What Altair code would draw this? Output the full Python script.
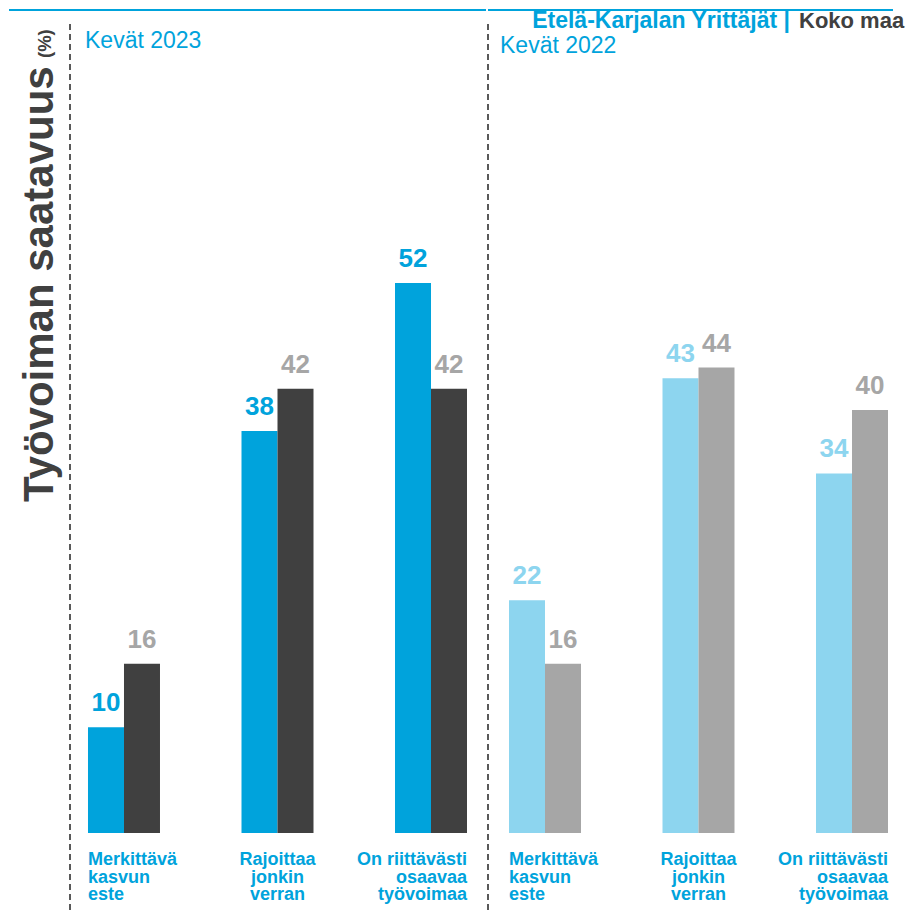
import altair as alt
import pandas as pd

# ---- data ----
categories = ["Merkittävä kasvun este", "Rajoittaa jonkin verran", "On riittävästi osaavaa työvoimaa"]
cat_lines = ["Merkittävä\nkasvun\neste", "Rajoittaa\njonkin\nverran", "On riittävästi\nosaavaa\ntyövoimaa"]
series = ["Etelä-Karjalan Yrittäjät", "Koko maa"]
ek_2023 = [10, 38, 52]
koko_2023 = [16, 42, 42]
ek_2022 = [22, 43, 34]
koko_2022 = [16, 44, 40]
panel_titles = ["Kevät 2023", "Kevät 2022"]
y_title = "Työvoiman saatavuus"
y_unit = "(%)"
legend_a = "Etelä-Karjalan Yrittäjät |"
legend_b = "Koko maa"

BLUE = "#00a3dc"
DARK = "#404040"
LBLUE = "#8dd5ef"
GRAY = "#a6a6a6"
FONT = "Liberation Sans"
H = 904


def make_df(ek, koko):
    rows = []
    for i, c in enumerate(categories):
        rows.append({"cat": c, "series": series[0], "value": ek[i]})
        rows.append({"cat": c, "series": series[1], "value": koko[i]})
    return pd.DataFrame(rows)


def text_chart(txt, x, y, **kw):
    return alt.Chart(pd.DataFrame({"t": [txt]})).mark_text(font=FONT, **kw).encode(
        x=alt.value(x), y=alt.value(y), text="t:N")


def panel(ek, koko, bar_colors, lab_colors, width, po, align, extras):
    df = make_df(ek, koko)
    xscale = alt.Scale(paddingInner=0.531, paddingOuter=po, align=align)
    x = alt.X("cat:N", sort=categories, scale=xscale, axis=None)
    xo = alt.XOffset("series:N", sort=series, scale=alt.Scale(paddingInner=0, paddingOuter=0))
    y = alt.Y("value:Q", scale=alt.Scale(domain=[-7.47, 78.0], nice=False, zero=False), axis=None)
    base = alt.Chart(df)
    bars = base.mark_bar().encode(
        x=x, xOffset=xo, y=y,
        color=alt.Color("series:N", scale=alt.Scale(domain=series, range=bar_colors), legend=None))
    vals = base.mark_text(dy=-16, baseline="alphabetic", fontSize=26, fontWeight="bold", font=FONT).encode(
        x=x, xOffset=xo, y=y, text="value:Q",
        color=alt.Color("series:N", scale=alt.Scale(domain=series, range=lab_colors), legend=None))
    cat_layers = []
    for i, (bp, al) in enumerate([(0, "left"), (0.5, "center"), (1, "right")]):
        cdf = pd.DataFrame({"cat": [categories[i]], "lines": [cat_lines[i]]})
        cat_layers.append(
            alt.Chart(cdf).mark_text(align=al, baseline="alphabetic", fontSize=18, fontWeight="bold",
                                     lineBreak="\n", lineHeight=17.5, color=BLUE, font=FONT).encode(
                x=alt.X("cat:N", sort=categories, scale=xscale, axis=None, bandPosition=bp),
                y=alt.value(857), text="lines:N"))
    return alt.layer(bars, vals, *cat_layers, *extras).resolve_scale(color="independent").properties(
        width=width, height=H)


dummy = pd.DataFrame({"a": [0]})
W1, W2 = 479, 419

p1_extras = [
    alt.Chart(dummy).mark_rule(color=BLUE, strokeWidth=2).encode(
        x=alt.value(1), x2=alt.value(W1 - 1), y=alt.value(2)),
    alt.Chart(dummy).mark_rule(color="#595959", strokeWidth=2, strokeDash=[6, 4]).encode(
        x=alt.value(62), y=alt.value(16), y2=alt.value(902)),
    text_chart(panel_titles[0], 77, 40, align="left", baseline="alphabetic", fontSize=23, color=BLUE),
    text_chart(y_title, 45, 494, align="left", baseline="alphabetic", angle=270, fontSize=42,
               fontWeight="bold", color=DARK),
    text_chart(y_unit, 43, 50, align="left", baseline="alphabetic", angle=270, fontSize=18.5,
               fontWeight="bold", color=DARK),
]
p2_extras = [
    alt.Chart(dummy).mark_rule(color=BLUE, strokeWidth=2).encode(
        x=alt.value(1), x2=alt.value(406), y=alt.value(2)),
    alt.Chart(dummy).mark_rule(color="#595959", strokeWidth=2, strokeDash=[6, 4]).encode(
        x=alt.value(1), y=alt.value(16), y2=alt.value(902)),
    text_chart(panel_titles[1], 13, 45, align="left", baseline="alphabetic", fontSize=23, color=BLUE),
    text_chart(legend_a, 303, 20, align="right", baseline="alphabetic", fontSize=23,
               fontWeight="bold", color=BLUE),
    text_chart(legend_b, 312, 20, align="left", baseline="alphabetic", fontSize=22,
               fontWeight="bold", color=DARK),
]

p1 = panel(ek_2023, koko_2023, [BLUE, DARK], [BLUE, GRAY], W1, 0.3257, 0.8, p1_extras)
p2 = panel(ek_2022, koko_2022, [LBLUE, GRAY], [LBLUE, GRAY], W2, 0.1303, 0.55, p2_extras)

chart = alt.hconcat(p1, p2, spacing=0).properties(padding=0).configure_view(
    stroke="transparent", strokeWidth=0)

chart.save("out.html", embed_options={"renderer": "svg", "actions": False})
